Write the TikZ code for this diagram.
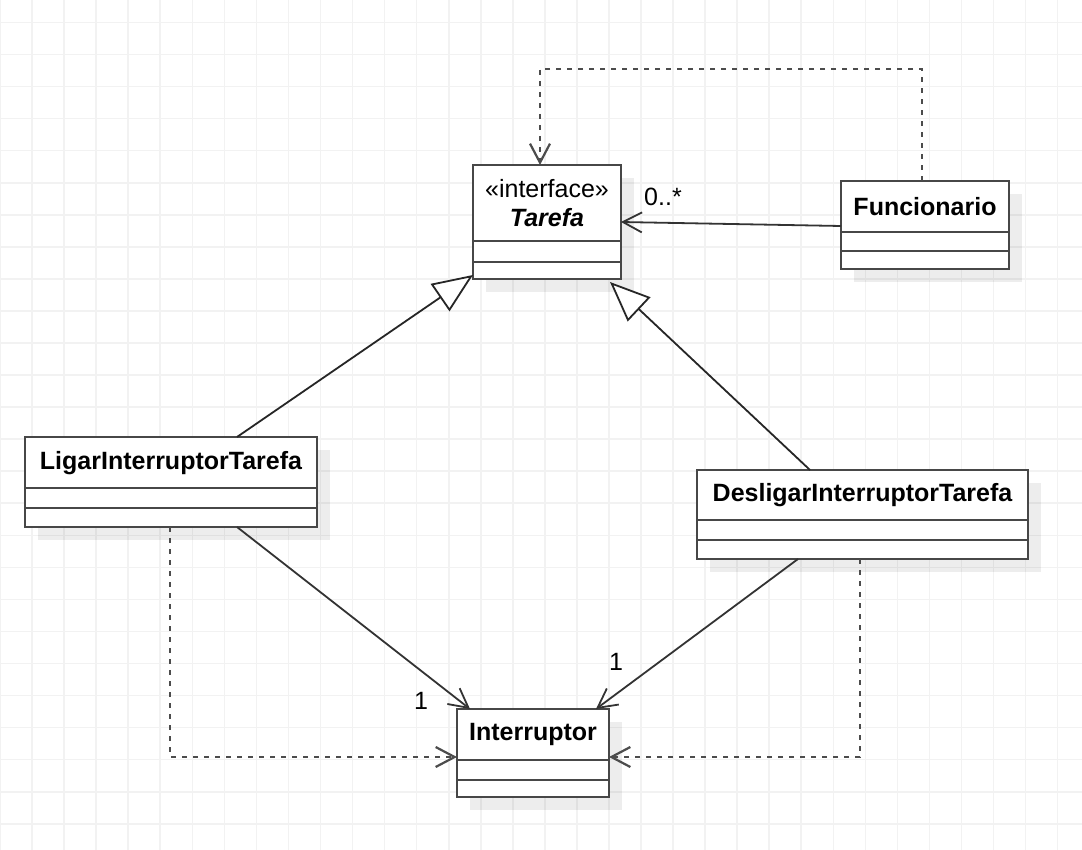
\documentclass[tikz,border=0pt]{standalone}
\usepackage{fontspec}
\setmainfont{Liberation Sans}
\usetikzlibrary{arrows.meta,shadows}
\begin{document}
\begin{tikzpicture}[x=1pt,y=-1pt,
  gridline/.style={draw=black!5, line width=1.6pt},
  classbox/.style={draw=black!72, line width=2.5pt, fill=white, anchor=north west,
    inner sep=0pt, outer sep=0pt,
    drop shadow={shadow xshift=13pt, shadow yshift=-13pt, fill=black, opacity=0.07}},
  sepline/.style={draw=black!72, line width=2.5pt},
  cname/.style={font=\fontsize{25}{30}\selectfont\bfseries, inner sep=0pt},
  stereo/.style={font=\fontsize{25}{30}\selectfont, inner sep=0pt},
  mult/.style={font=\fontsize{25}{30}\selectfont, inner sep=0pt},
  assoc/.style={draw=black!80, line width=1.8pt, -{Straight Barb[length=19pt,width=20pt]}},
  dep/.style={draw=black!70, line width=2.2pt, dash pattern=on 5pt off 6pt,
    -{Straight Barb[length=19pt,width=20pt]}},
  gen/.style={draw=black!85, line width=1.8pt,
    -{Triangle[length=40pt,width=33pt,fill=white]}}
]
% page and background grid
\useasboundingbox (0,0) rectangle (1082,850);
\fill[white] (0,0) rectangle (1082,850);
\foreach \i in {0,...,33} \draw[gridline] (\i*32.05,0) -- (\i*32.05,850);
\foreach \j in {0,...,25} \draw[gridline] (0,22.5+\j*32.05) -- (1082,22.5+\j*32.05);

% class boxes
\node[classbox, minimum width=148pt, minimum height=114pt] (tar) at (473,165) {};
\node[classbox, minimum width=168pt, minimum height=88pt] (fun) at (841,181) {};
\node[classbox, minimum width=292pt, minimum height=90pt] (lig) at (25,437) {};
\node[classbox, minimum width=331pt, minimum height=89pt] (des) at (697,470) {};
\node[classbox, minimum width=152pt, minimum height=88pt] (intr) at (457,709) {};

% compartment separators
\draw[sepline] ([yshift=-76pt]tar.north west) -- ([yshift=-76pt]tar.north east);
\draw[sepline] ([yshift=-97pt]tar.north west) -- ([yshift=-97pt]tar.north east);
\draw[sepline] ([yshift=-51pt]fun.north west) -- ([yshift=-51pt]fun.north east);
\draw[sepline] ([yshift=-70pt]fun.north west) -- ([yshift=-70pt]fun.north east);
\draw[sepline] ([yshift=-51pt]lig.north west) -- ([yshift=-51pt]lig.north east);
\draw[sepline] ([yshift=-71pt]lig.north west) -- ([yshift=-71pt]lig.north east);
\draw[sepline] ([yshift=-50pt]des.north west) -- ([yshift=-50pt]des.north east);
\draw[sepline] ([yshift=-70pt]des.north west) -- ([yshift=-70pt]des.north east);
\draw[sepline] ([yshift=-51pt]intr.north west) -- ([yshift=-51pt]intr.north east);
\draw[sepline] ([yshift=-71pt]intr.north west) -- ([yshift=-71pt]intr.north east);

% class names
\node[stereo] (tar-st) at ([yshift=-24pt]tar.north) {«interface»};
\node[cname, font=\fontsize{25}{30}\selectfont\bfseries\itshape] (tar-t) at ([yshift=-53pt]tar.north) {Tarefa};
\node[cname] (fun-t) at ([yshift=-25.5pt]fun.north) {Funcionario};
\node[cname] (lig-t) at ([yshift=-26pt]lig.north) {LigarInterruptorTarefa};
\node[cname] (des-t) at ([yshift=-25pt]des.north) {DesligarInterruptorTarefa};
\node[cname] (intr-t) at ([yshift=-25.5pt]intr.north) {Interruptor};

% generalizations
\draw[gen] ([xshift=212pt]lig.north west) -- ([yshift=4pt]tar.south west);
\draw[gen] ([xshift=113pt]des.north west) -- ([xshift=-11pt,yshift=-3pt]tar.south east);

% associations
\draw[assoc] ([yshift=-45pt]fun.north west) -- ([yshift=-57pt]tar.north east);
\draw[assoc] ([xshift=212pt]lig.south west) -- ([xshift=13pt]intr.north west);
\draw[assoc] ([xshift=101pt]des.south west) -- ([xshift=-13pt]intr.north east);

% dependencies
\draw[dep] ([xshift=81pt]fun.north west) -- ++(0,-112) -| ([xshift=67pt]tar.north west);
\draw[dep] ([xshift=145pt]lig.south west) |- ([yshift=-4pt]intr.west);
\draw[dep] ([xshift=163pt]des.south west) |- ([yshift=-4pt]intr.east);

% multiplicities
\node[mult] (m-fun) at (663,197) {0..*};
\node[mult] (m-lig) at (421,701) {1};
\node[mult] (m-des) at (616,662) {1};
\end{tikzpicture}
\end{document}
